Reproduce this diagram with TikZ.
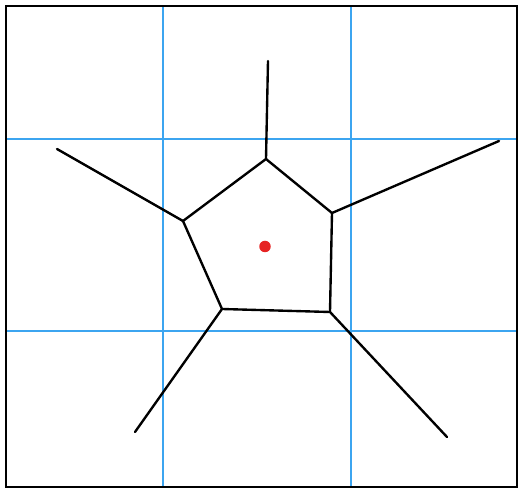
\documentclass[tikz,border=0pt]{standalone}
\usepackage{tikz}
\usetikzlibrary{calc}
\definecolor{gridblue}{RGB}{60, 165, 240}
\definecolor{sitered}{RGB}{230, 35, 35}

\begin{document}
\begin{tikzpicture}[x=0.02cm, y=-0.02cm,
        edge/.style={draw=black, line width=1.35pt, line cap=round, line join=round},
        grid/.style={draw=gridblue, line width=0.6pt},
        site/.style={circle, fill=sitered, minimum size=2.3mm, inner sep=0pt},
        frame/.style={draw=black, line width=1pt}
      ]
        \useasboundingbox (0,0) rectangle (518,489);
        % guide lines
        \draw[grid] (163,6) -- (163,487);
        \draw[grid, line width=1.1pt] (351,6) -- (351,487);
        \draw[grid] (6,139) -- (517,139);
        \draw[grid] (6,331) -- (517,331);
        % cell corners and ray ends
        \coordinate (vt) at (266,159);
        \coordinate (vr) at (332,213);
        \coordinate (vbr) at (330,312);
        \coordinate (vbl) at (222,309);
        \coordinate (vl) at (183,221);
        \coordinate (et) at (268,61);
        \coordinate (er) at (499,141);
        \coordinate (ebr) at (447,437);
        \coordinate (ebl) at (135,432);
        \coordinate (el) at (57,149);
        \draw[edge] (vt) -- (vr) -- (vbr) -- (vbl) -- (vl) -- cycle;
        \foreach \v in {t,r,br,bl,l} { \draw[edge] (v\v) -- (e\v); }
        \node[site] (s) at (265,246.5) {};
        \draw[frame] (6,6) rectangle (517,487);
      \end{tikzpicture}
\end{document}
